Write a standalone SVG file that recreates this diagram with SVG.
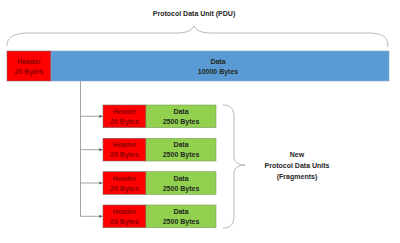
<svg xmlns="http://www.w3.org/2000/svg" width="400" height="243" viewBox="0 0 400 243">
<defs>
<style>
text{font-family:"Liberation Sans",Arial,sans-serif;font-weight:bold;font-size:7px;text-anchor:middle;dominant-baseline:central}
.hdr{fill:#FF0000;stroke:#7F6060;stroke-width:0.6}
.blue{fill:#5B9BD5;stroke:#8FA7C0;stroke-width:0.6}
.grn{fill:#92D050;stroke:#7F9F60;stroke-width:0.6}
.ht{fill:#8B0000}
.dt{fill:#1F2A20}
.lbl{fill:#262626}
.conn{fill:none;stroke:#8C8C8C;stroke-width:0.8}
.brace{fill:none;stroke:#A6A6A6;stroke-width:0.8}
</style>
<marker id="arr" viewBox="0 0 6 6" refX="6" refY="3" markerWidth="4" markerHeight="4" orient="auto">
<path d="M0,0 L6,3 L0,6 Z" fill="#595959"/>
</marker>
</defs>
<rect width="400" height="243" fill="#FFFFFF"/>

<g id="title"><text class="lbl" x="194" y="13">Protocol Data Unit (PDU)</text></g>
<g id="pdu-brace"><path class="brace" d="M7,46 C7,38 12,33 30,33 L176,33 C188,33 192,30 194,26 C196,30 200,33 212,33 L368,33 C384,33 388,38 388,47"/></g>

<g id="pdu">
<rect class="hdr" x="7" y="51" width="44" height="30"/>
<text class="ht" x="29" y="61">Header</text>
<text class="ht" x="29" y="71">20 Bytes</text>
<rect class="blue" x="51" y="51" width="338" height="30"/>
<text class="dt" x="218" y="61">Data</text>
<text class="dt" x="218" y="71">10000 Bytes</text>
</g>

<g id="connectors">
<path class="conn" d="M80.5,81 V216.3"/>
<path class="conn" d="M80.5,116.3 H102.5" marker-end="url(#arr)"/>
<path class="conn" d="M80.5,149.7 H102.5" marker-end="url(#arr)"/>
<path class="conn" d="M80.5,183 H102.5" marker-end="url(#arr)"/>
<path class="conn" d="M80.5,216.3 H102.5" marker-end="url(#arr)"/>
</g>

<g id="frag1">
<rect class="hdr" x="103" y="105" width="43" height="22.7"/>
<text class="ht" x="124.5" y="111.5">Header</text>
<text class="ht" x="124.5" y="121.5">20 Bytes</text>
<rect class="grn" x="146" y="105" width="70" height="22.7"/>
<text class="dt" x="181" y="111.5">Data</text>
<text class="dt" x="181" y="121.5">2500 Bytes</text>
</g>
<g id="frag2">
<rect class="hdr" x="103" y="138.3" width="43" height="22.7"/>
<text class="ht" x="124.5" y="144.8">Header</text>
<text class="ht" x="124.5" y="154.8">20 Bytes</text>
<rect class="grn" x="146" y="138.3" width="70" height="22.7"/>
<text class="dt" x="181" y="144.8">Data</text>
<text class="dt" x="181" y="154.8">2500 Bytes</text>
</g>
<g id="frag3">
<rect class="hdr" x="103" y="171.7" width="43" height="22.7"/>
<text class="ht" x="124.5" y="178.2">Header</text>
<text class="ht" x="124.5" y="188.2">20 Bytes</text>
<rect class="grn" x="146" y="171.7" width="70" height="22.7"/>
<text class="dt" x="181" y="178.2">Data</text>
<text class="dt" x="181" y="188.2">2500 Bytes</text>
</g>
<g id="frag4">
<rect class="hdr" x="103" y="205" width="43" height="22.7"/>
<text class="ht" x="124.5" y="211.5">Header</text>
<text class="ht" x="124.5" y="221.5">20 Bytes</text>
<rect class="grn" x="146" y="205" width="70" height="22.7"/>
<text class="dt" x="181" y="211.5">Data</text>
<text class="dt" x="181" y="221.5">2500 Bytes</text>
</g>

<g id="frag-brace"><path class="brace" d="M223,105 C231,105 234,109 234,118 L234,156 C234,162 238,165 245,165 C238,165 234,168 234,174 L234,215 C234,224 231,228 223,228"/></g>
<g id="frag-label">
<text class="lbl" x="297" y="154">New</text>
<text class="lbl" x="297" y="165">Protocol Data Units</text>
<text class="lbl" x="297" y="176">(Fragments)</text>
</g>
</svg>
